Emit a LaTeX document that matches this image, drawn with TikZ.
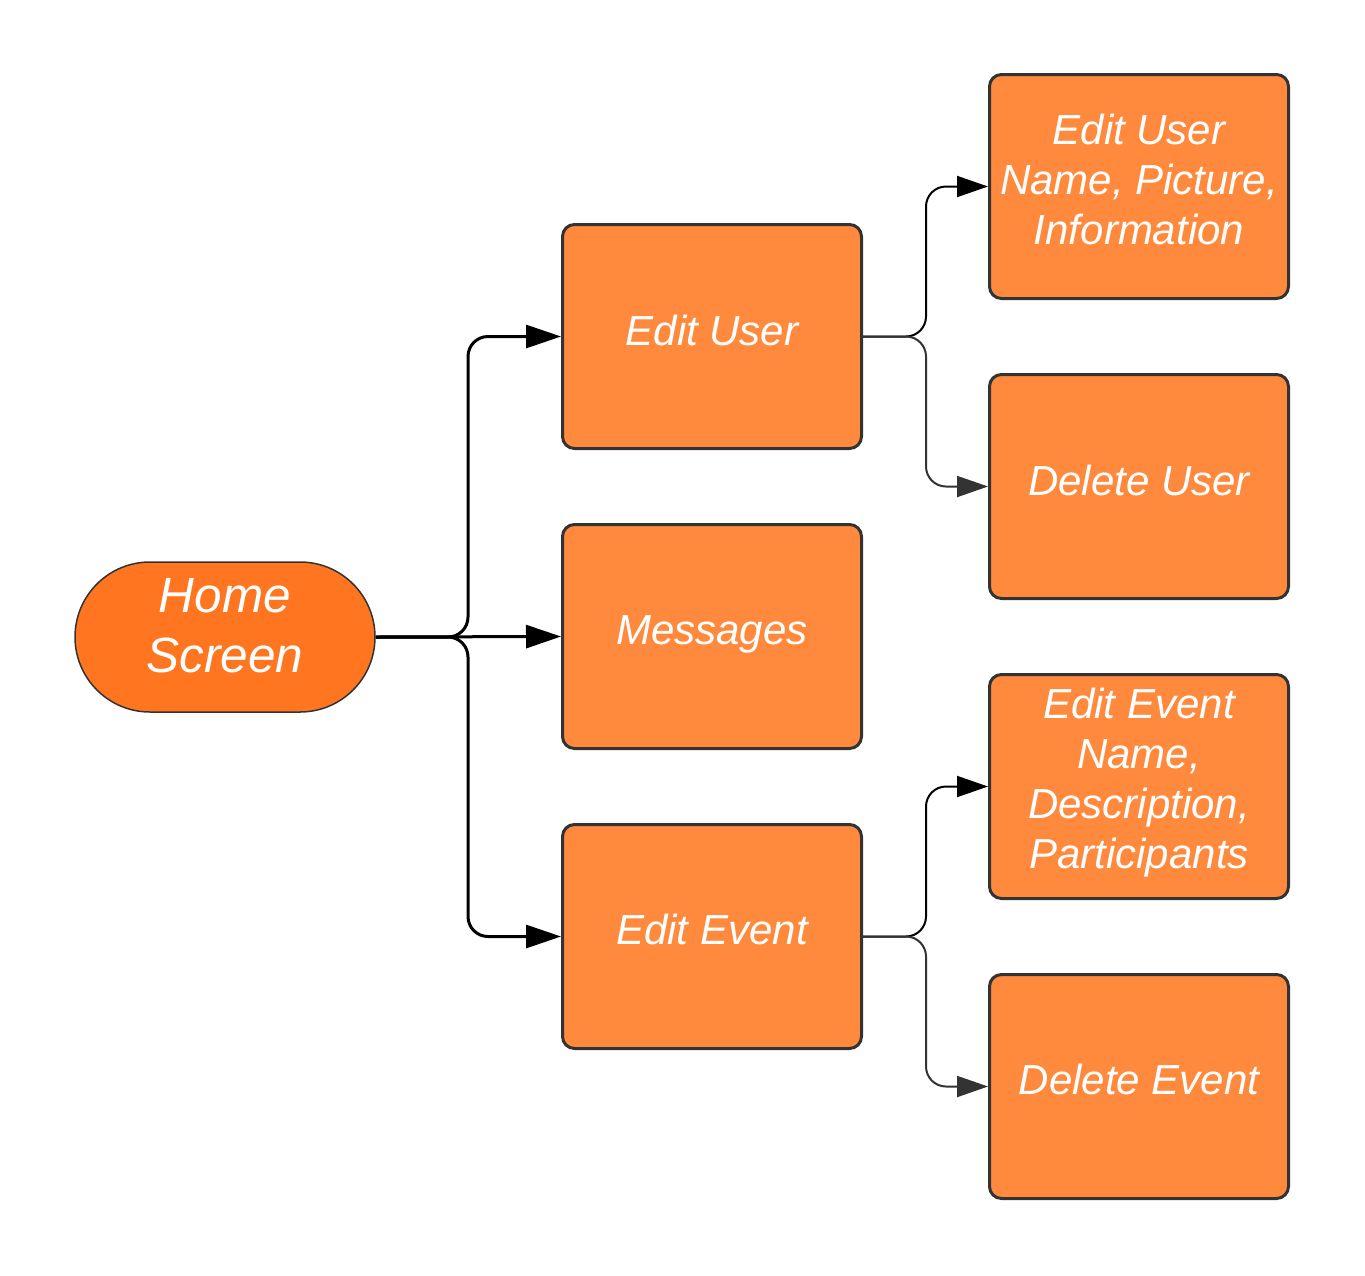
\documentclass[tikz,border=0pt]{standalone}
\usepackage{fontspec}
\setmainfont{Liberation Sans}
\usetikzlibrary{arrows.meta}
\definecolor{homefill}{HTML}{FF7520}
\definecolor{boxfill}{HTML}{FF8A3D}
\definecolor{edge}{HTML}{333333}
\tikzset{
  homebox/.style={draw=edge, line width=1.5pt, fill=homefill, rounded corners=75pt,
    minimum width=300pt, minimum height=150pt, align=center, text=white,
    font=\fontsize{49.5}{60}\selectfont\itshape, inner sep=0pt},
  stepbox/.style={draw=edge, line width=3pt, fill=boxfill, rounded corners=12pt,
    minimum width=299pt, minimum height=224pt, align=center, text=white,
    font=\fontsize{42}{50}\selectfont\itshape, inner sep=0pt},
  mainconn/.style={line width=3pt, black, rounded corners=20pt,
    -{Triangle[length=35pt,width=23pt]}},
  subconn/.style={line width=2pt, rounded corners=20pt,
    -{Triangle[length=31pt,width=21pt]}},
}
\begin{document}
\begin{tikzpicture}[x=1pt,y=-1pt]
\useasboundingbox (0,0) rectangle (1365,1275);
\node[homebox, text depth=24pt] (home) at (225,637) {Home\\Screen};
\node[stepbox, text depth=13pt] (eu) at (712,336.5) {Edit User};
\node[stepbox, text depth=13pt] (msg) at (712,636.5) {Messages};
\node[stepbox, text depth=14pt] (ee) at (712,936.5) {Edit Event};
\node[stepbox, text depth=15pt] (eun) at (1139,186.5) {Edit User\\Name, Picture,\\Information};
\node[stepbox, text depth=12pt] (du) at (1139,486.5) {Delete User};
\node[stepbox, text depth=17pt] (een) at (1139,786.5) {Edit Event\\Name,\\Description,\\Participants};
\node[stepbox, text depth=14pt] (de) at (1139,1086.5) {Delete Event};
\draw[mainconn] (home.east) -- (468,637) |- (eu.west);
\draw[mainconn] (home.east) -- (msg.west);
\draw[mainconn] (home.east) -- (468,637) |- (ee.west);
\draw[subconn, black] (eu.east) -- (926,336.5) |- (eun.west);
\draw[subconn, edge] (eu.east) -- (926,336.5) |- (du.west);
\draw[subconn, black] (ee.east) -- (926,936.5) |- (een.west);
\draw[subconn, edge] (ee.east) -- (926,936.5) |- (de.west);
\end{tikzpicture}
\end{document}
